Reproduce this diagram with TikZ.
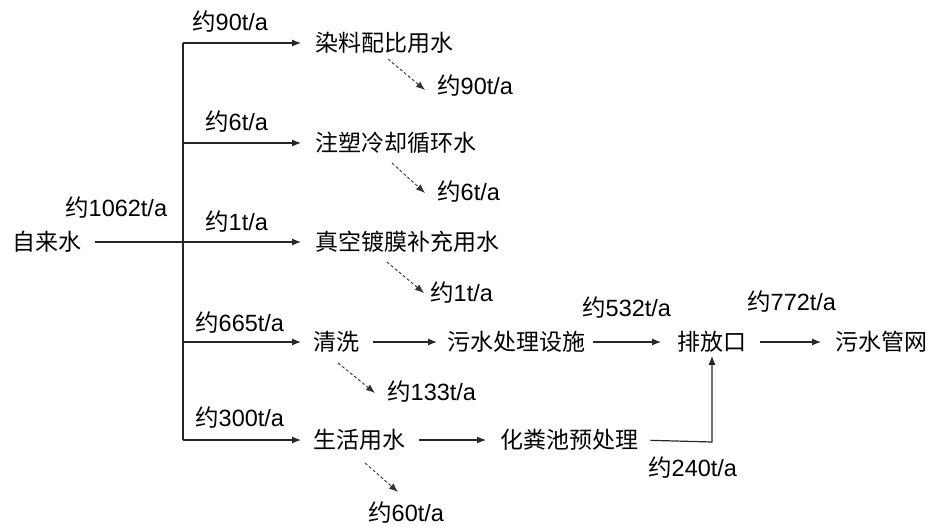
\documentclass[tikz,border=0pt]{standalone}
\usepackage{fontspec}
\setmainfont{Liberation Sans}
\newfontfamily\cjk{Noto Sans CJK SC}
\usetikzlibrary{arrows.meta}
\newcommand\yue{{\cjk 约}}
\begin{document}
\begin{tikzpicture}[x=1pt,y=-1pt,
  txt/.style={anchor=west,inner sep=0pt,font=\fontsize{23}{26}\selectfont\cjk},
  lbl/.style={anchor=west,inner sep=0pt,font=\fontsize{23.5}{26}\selectfont},
  flow/.style={line width=1.2pt,draw=black!85,-{Latex[length=9pt,width=7pt]}},
  plain/.style={line width=1.2pt,draw=black!85},
  loss/.style={line width=0.9pt,draw=black!80,dash pattern=on 3pt off 2.2pt,-{Latex[length=9pt,width=7pt]}}]
\useasboundingbox (0,0) rectangle (934,527);
% nodes
\node[txt] (src) at (12,242) {自来水};
\node[txt] (dye) at (315,43) {染料配比用水};
\node[txt] (cool) at (315,143) {注塑冷却循环水};
\node[txt] (vac) at (315,242) {真空镀膜补充用水};
\node[txt] (wash) at (313,342) {清洗};
\node[txt] (life) at (313,440) {生活用水};
\node[txt] (wwt) at (447,342) {污水处理设施};
\node[txt] (out) at (677,342) {排放口};
\node[txt] (net) at (835,342) {污水管网};
\node[txt] (sep) at (500,440) {化粪池预处理};
% labels
\node[lbl] (l1062) at (65,208) {\yue1062t/a};
\node[lbl] (l90) at (192,22) {\yue90t/a};
\node[lbl] (l6) at (205,122) {\yue6t/a};
\node[lbl] (l1) at (205,222) {\yue1t/a};
\node[lbl] (l665) at (195,323) {\yue665t/a};
\node[lbl] (l300) at (195,418) {\yue300t/a};
\node[lbl] (d90) at (437,86) {\yue90t/a};
\node[lbl] (d6) at (437,192) {\yue6t/a};
\node[lbl] (d1) at (430,293) {\yue1t/a};
\node[lbl] (d133) at (387,392) {\yue133t/a};
\node[lbl] (d60) at (368,513) {\yue60t/a};
\node[lbl] (l532) at (582,308) {\yue532t/a};
\node[lbl] (l772) at (747,302) {\yue772t/a};
\node[lbl] (l240) at (648,468) {\yue240t/a};
% junctions
\coordinate (jt) at (183,43);
\coordinate (j2) at (183,143);
\coordinate (j4) at (183,342);
\coordinate (jb) at (183,440);
\coordinate (corner) at (712,442);
\coordinate (s0) at (95,242);
% main supply
\draw[plain] (jt) -- (jb);
\draw[flow,shorten >=14pt] (s0) -- (vac.west);
\draw[flow,shorten >=14pt] (jt) -- (dye.west);
\draw[flow,shorten >=14pt] (j2) -- (cool.west);
\draw[flow,shorten >=12pt] (j4) -- (wash.west);
\draw[flow,shorten >=12pt] (jb) -- (life.west);
% process chain
\draw[flow,shorten <=14pt,shorten >=10pt] (wash.east) -- (wwt.west);
\draw[flow,shorten <=8pt,shorten >=16pt] (wwt.east) -- (out.west);
\draw[flow,shorten <=14pt,shorten >=14pt] (out.east) -- (net.west);
\draw[flow,shorten <=14pt,shorten >=14pt] (life.east) -- (sep.west);
\draw[flow,shorten <=12pt] (sep.east) -- (corner) -- ([yshift=-3pt]corner |- out.south);
% dashed losses
\coordinate (a1) at (388,59); \coordinate (b1) at (425,90);
\coordinate (a2) at (392,163); \coordinate (b2) at (425,193);
\coordinate (a3) at (387,262); \coordinate (b3) at (424,293);
\coordinate (a4) at (338,363); \coordinate (b4) at (375,393);
\coordinate (a5) at (365,463); \coordinate (b5) at (398,492);
\draw[loss] (a1) -- (b1);
\draw[loss] (a2) -- (b2);
\draw[loss] (a3) -- (b3);
\draw[loss] (a4) -- (b4);
\draw[loss] (a5) -- (b5);
\end{tikzpicture}
\end{document}
